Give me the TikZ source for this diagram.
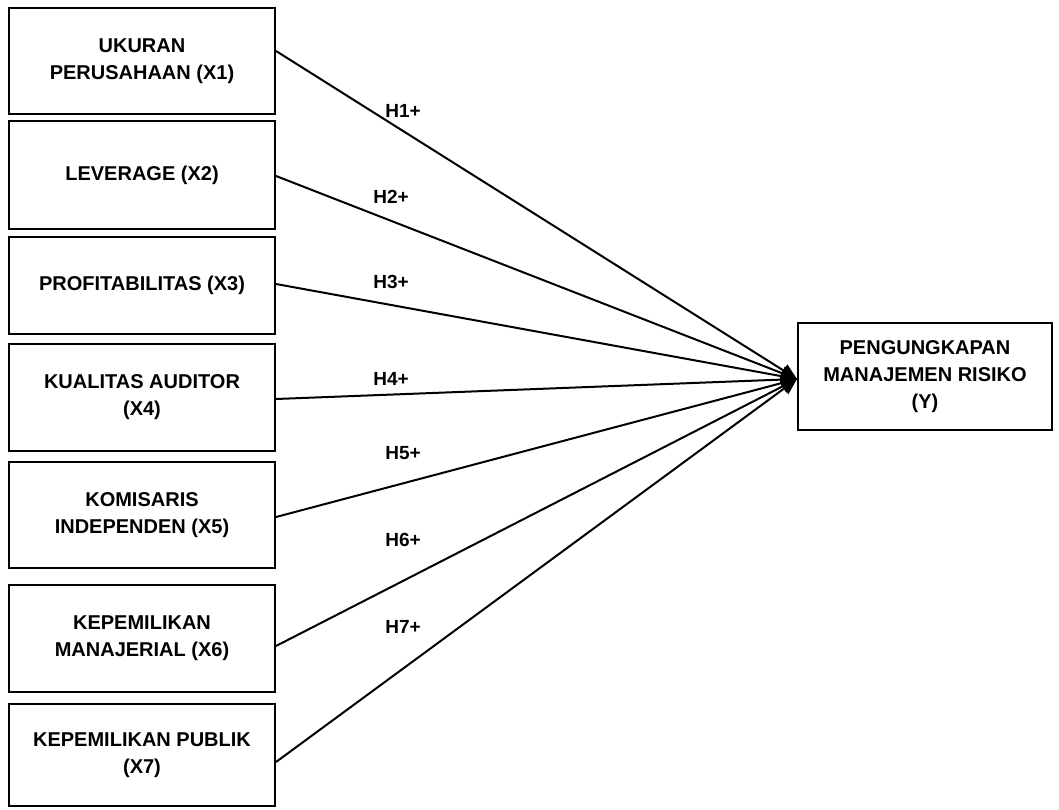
\documentclass[tikz,border=0pt]{standalone}
\usepackage{fontspec}
\setmainfont{Liberation Sans}
\usetikzlibrary{arrows.meta}
\begin{document}
\begin{tikzpicture}[x=1pt,y=-1pt,
  varbox/.style={draw,line width=2pt,minimum width=266pt,inner sep=0pt,align=center,
    font=\fontsize{20}{27}\selectfont\bfseries},
  hlabel/.style={font=\fontsize{19}{22}\selectfont\bfseries,inner sep=0pt},
  conn/.style={line width=2pt,-{Triangle[length=16pt,width=14pt]}}]
\useasboundingbox (0,0) rectangle (1059,810);
\node[varbox,minimum height=106pt] (b1) at (142,61) {UKURAN\\PERUSAHAAN (X1)};
\node[varbox,minimum height=108pt] (b2) at (142,175) {LEVERAGE (X2)};
\node[varbox,minimum height=97pt] (b3) at (142,285.5) {PROFITABILITAS (X3)};
\node[varbox,minimum height=107pt] (b4) at (142,397.5) {KUALITAS AUDITOR\\(X4)};
\node[varbox,minimum height=106pt] (b5) at (142,515) {KOMISARIS\\INDEPENDEN (X5)};
\node[varbox,minimum height=107pt] (b6) at (142,638.5) {KEPEMILIKAN\\MANAJERIAL (X6)};
\node[varbox,minimum height=102pt] (b7) at (142,755) {KEPEMILIKAN PUBLIK\\(X7)};
\node[varbox,minimum width=254pt,minimum height=107pt] (y) at (925,376.5) {PENGUNGKAPAN\\MANAJEMEN RISIKO\\(Y)};
\coordinate (tip) at (797,379);
\draw[conn] (b1.east |- 0,51) -- (tip);
\draw[conn] (b2.east |- 0,176) -- (tip);
\draw[conn] (b3.east |- 0,284) -- (tip);
\draw[conn] (b4.east |- 0,399) -- (tip);
\draw[conn] (b5.east |- 0,517) -- (tip);
\draw[conn] (b6.east |- 0,646) -- (tip);
\draw[conn] (b7.east |- 0,762) -- (tip);
\node[hlabel] (h1) at (403,111) {H1+};
\node[hlabel] (h2) at (391,197) {H2+};
\node[hlabel] (h3) at (391,282) {H3+};
\node[hlabel] (h4) at (391,379) {H4+};
\node[hlabel] (h5) at (403,453) {H5+};
\node[hlabel] (h6) at (403,540) {H6+};
\node[hlabel] (h7) at (403,627) {H7+};
\end{tikzpicture}
\end{document}
